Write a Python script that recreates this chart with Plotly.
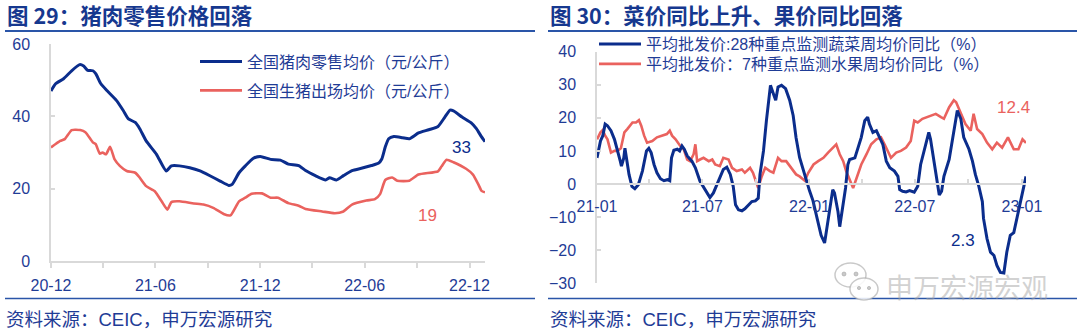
import plotly.graph_objects as go

# ---------------- 图29：猪肉价格（元/公斤） ----------------
pork_dates = [
    "2020-12-01", "2020-12-09", "2020-12-23", "2021-01-06", "2021-01-20", "2021-01-27",
    "2021-02-03", "2021-02-12", "2021-02-17", "2021-02-26", "2021-03-08", "2021-03-25",
    "2021-04-06", "2021-04-15", "2021-04-27", "2021-05-05", "2021-05-16", "2021-06-03",
    "2021-06-20", "2021-06-29", "2021-07-13", "2021-07-31", "2021-08-18", "2021-09-05",
    "2021-09-22", "2021-10-07", "2021-10-13", "2021-10-25", "2021-11-05", "2021-11-19",
    "2021-12-01", "2021-12-19", "2022-01-05", "2022-01-19", "2022-02-06", "2022-02-18",
    "2022-03-07", "2022-03-25", "2022-04-01", "2022-04-13", "2022-04-25", "2022-05-10",
    "2022-05-28", "2022-06-13", "2022-06-25", "2022-07-01", "2022-07-07", "2022-07-13",
    "2022-07-22", "2022-08-06", "2022-08-18", "2022-09-03", "2022-09-21", "2022-10-07",
    "2022-10-19", "2022-10-28", "2022-11-03", "2022-11-18", "2022-12-04", "2022-12-13",
    "2022-12-22", "2022-12-28",
]
pork_retail = [
    47.0, 49.0, 50.4, 52.6, 54.3, 53.9,
    52.7, 52.6, 51.8, 49.0, 47.2, 44.4,
    41.6, 39.3, 38.3, 36.5, 33.2, 29.5,
    24.9, 26.3, 26.3, 25.8, 24.9, 23.5,
    22.1, 20.9, 21.2, 24.4, 26.3, 28.4,
    28.9, 28.1, 27.9, 26.8, 26.4, 25.0,
    23.6, 22.4, 23.0, 22.4, 23.6, 25.0,
    25.7, 26.4, 27.0, 28.2, 31.5, 33.8,
    34.4, 34.1, 33.8, 35.4, 36.3, 37.2,
    39.8, 41.7, 41.5, 39.8, 38.2, 36.6,
    34.3, 33.0,
]

hog_dates = [
    "2020-12-01", "2020-12-17", "2020-12-25", "2021-01-06", "2021-01-21", "2021-01-30",
    "2021-02-12", "2021-02-17", "2021-02-24", "2021-03-01", "2021-03-07", "2021-03-14",
    "2021-03-22", "2021-03-31", "2021-04-12", "2021-04-27", "2021-05-05", "2021-05-16",
    "2021-05-31", "2021-06-12", "2021-06-22", "2021-06-29", "2021-07-13", "2021-08-07",
    "2021-08-24", "2021-09-10", "2021-09-28", "2021-10-10", "2021-10-25", "2021-11-05",
    "2021-11-16", "2021-12-04", "2021-12-19", "2022-01-01", "2022-01-19", "2022-02-06",
    "2022-02-18", "2022-03-19", "2022-04-10", "2022-04-25", "2022-05-10", "2022-06-04",
    "2022-06-19", "2022-06-28", "2022-07-07", "2022-07-19", "2022-07-28", "2022-08-18",
    "2022-09-03", "2022-10-07", "2022-10-13", "2022-10-22", "2022-11-03", "2022-11-25",
    "2022-12-07", "2022-12-16", "2022-12-22", "2022-12-28",
]
hog_price = [
    31.4, 33.2, 33.7, 36.2, 36.2, 35.6,
    32.8, 32.3, 29.7, 30.0, 29.5, 31.6,
    28.1, 26.3, 24.9, 24.4, 23.0, 20.7,
    19.3, 16.5, 14.2, 16.3, 16.5, 15.9,
    15.6, 14.7, 13.0, 12.6, 16.5, 17.5,
    18.6, 18.7, 17.5, 17.5, 16.0, 15.3,
    14.4, 13.7, 13.2, 13.7, 15.6, 16.7,
    17.1, 18.5, 22.4, 23.1, 22.2, 22.2,
    23.9, 24.8, 26.1, 28.0, 27.3, 25.5,
    23.9, 21.3, 19.4, 19.0,
]

pork_names = ["全国猪肉零售均价（元/公斤）", "全国生猪出场均价（元/公斤）"]
pork_tickvals = ["2020-12-01", "2021-03-01", "2021-06-01", "2021-09-01", "2021-12-01",
                 "2022-03-01", "2022-06-01", "2022-09-01", "2022-12-01"]
pork_ticktext = ["20-12", "", "21-06", "", "21-12", "", "22-06", "", "22-12"]

# ---------------- 图30：菜价、果价同比（%） ----------------
veg_dates = [
    "2021-01-01", "2021-01-07", "2021-01-11", "2021-01-15", "2021-01-19", "2021-01-25",
    "2021-01-31", "2021-02-05", "2021-02-10", "2021-02-12", "2021-02-16", "2021-02-18",
    "2021-02-21", "2021-02-25", "2021-03-02", "2021-03-07", "2021-03-13", "2021-03-20",
    "2021-03-27", "2021-03-31", "2021-04-04", "2021-04-09", "2021-04-14", "2021-04-20",
    "2021-04-26", "2021-05-02", "2021-05-06", "2021-05-09", "2021-05-13", "2021-05-19",
    "2021-05-23", "2021-05-27", "2021-05-31", "2021-06-05", "2021-06-13", "2021-06-19",
    "2021-06-27", "2021-07-06", "2021-07-14", "2021-07-20", "2021-07-29", "2021-08-06",
    "2021-08-12", "2021-08-18", "2021-08-23", "2021-08-27", "2021-09-01", "2021-09-07",
    "2021-09-12", "2021-09-18", "2021-09-24", "2021-09-30", "2021-10-05", "2021-10-08",
    "2021-10-14", "2021-10-19", "2021-10-26", "2021-10-31", "2021-11-04", "2021-11-08",
    "2021-11-14", "2021-11-21", "2021-11-28", "2021-12-04", "2021-12-09", "2021-12-15",
    "2021-12-23", "2022-01-01", "2022-01-07", "2022-01-15", "2022-01-21", "2022-01-27",
    "2022-02-02", "2022-02-10", "2022-02-13", "2022-02-19", "2022-02-22", "2022-02-27",
    "2022-03-04", "2022-03-08", "2022-03-11", "2022-03-20", "2022-03-25", "2022-03-31",
    "2022-04-06", "2022-04-11", "2022-04-14", "2022-04-20", "2022-04-26", "2022-04-30",
    "2022-05-07", "2022-05-13", "2022-05-19", "2022-05-27", "2022-06-02", "2022-06-05",
    "2022-06-10", "2022-06-16", "2022-06-22", "2022-06-30", "2022-07-06", "2022-07-11",
    "2022-07-20", "2022-07-25", "2022-07-28", "2022-08-03", "2022-08-09", "2022-08-12",
    "2022-08-16", "2022-08-20", "2022-08-29", "2022-09-04", "2022-09-09", "2022-09-12",
    "2022-09-18", "2022-09-23", "2022-10-02", "2022-10-08", "2022-10-13", "2022-10-19",
    "2022-10-25", "2022-10-27", "2022-11-02", "2022-11-08", "2022-11-14", "2022-11-19",
    "2022-11-25", "2022-12-01", "2022-12-06", "2022-12-12", "2022-12-18", "2022-12-23",
    "2022-12-29", "2023-01-04", "2023-01-08",
]
veg_yoy = [
    7.9, 13.0, 14.6, 18.1, 17.6, 16.1,
    13.5, 10.5, 6.9, 5.4, 7.9, 10.8,
    7.4, 2.9, -0.7, -1.4, -0.2, 3.9,
    10.0, 10.8, 9.5, 5.9, 3.4, 1.6,
    1.0, 1.3, 1.0, 7.9, 10.2, 10.5,
    10.0, 11.5, 10.5, 8.5, 6.9, 4.9,
    0.8, -1.7, -4.1, -2.7, 0.8, 4.4,
    5.1, 2.9, -0.7, -6.3, -7.8, -8.1,
    -7.5, -6.3, -5.3, -5.1, -4.3, 2.9,
    10.0, 19.1, 29.8, 27.3, 25.3, 29.3,
    29.8, 28.8, 25.3, 20.7, 14.0, 8.0,
    3.0, -2.0, -5.0, -11.0, -15.5, -17.8,
    -10.4, -1.7, -2.7, -8.4, -12.9, -7.3,
    -1.2, 5.9, 7.4, 7.9, 11.0, 14.1,
    19.1, 20.2, 18.1, 15.6, 16.1, 14.6,
    12.0, 6.9, 4.9, 3.9, 2.3, -1.7,
    -2.2, -2.4, -2.0, -2.5, -0.7, 5.9,
    12.5, 15.6, 13.5, 6.9, -0.2, -3.3,
    -2.2, 2.3, 7.4, 13.5, 19.1, 22.2,
    19.7, 14.1, 10.5, 6.9, 2.9, -0.7,
    -5.3, -10.4, -16.5, -20.6, -21.6, -24.6,
    -26.7, -26.9, -20.6, -15.5, -14.7, -10.4,
    -5.3, -0.2, 2.3,
]

fruit_dates = [
    "2021-01-01", "2021-01-07", "2021-01-11", "2021-01-15", "2021-01-19", "2021-01-25",
    "2021-01-31", "2021-02-05", "2021-02-11", "2021-02-17", "2021-02-22", "2021-03-03",
    "2021-03-09", "2021-03-14", "2021-03-18", "2021-03-23", "2021-03-28", "2021-04-06",
    "2021-04-14", "2021-04-23", "2021-05-01", "2021-05-06", "2021-05-10", "2021-05-16",
    "2021-05-24", "2021-05-30", "2021-06-05", "2021-06-10", "2021-06-16", "2021-06-19",
    "2021-06-22", "2021-06-27", "2021-07-03", "2021-07-12", "2021-07-18", "2021-07-23",
    "2021-07-31", "2021-08-06", "2021-08-15", "2021-08-21", "2021-08-29", "2021-09-07",
    "2021-09-12", "2021-09-21", "2021-09-26", "2021-10-02", "2021-10-05", "2021-10-11",
    "2021-10-17", "2021-10-25", "2021-10-31", "2021-11-08", "2021-11-14", "2021-11-22",
    "2021-12-01", "2021-12-09", "2021-12-15", "2021-12-24", "2021-12-30", "2022-01-08",
    "2022-01-16", "2022-01-25", "2022-02-02", "2022-02-11", "2022-02-16", "2022-02-22",
    "2022-02-28", "2022-03-05", "2022-03-11", "2022-03-17", "2022-03-23", "2022-03-31",
    "2022-04-09", "2022-04-17", "2022-04-26", "2022-05-04", "2022-05-10", "2022-05-16",
    "2022-05-21", "2022-05-30", "2022-06-07", "2022-06-16", "2022-06-24", "2022-06-30",
    "2022-07-06", "2022-07-14", "2022-07-23", "2022-07-31", "2022-08-06", "2022-08-15",
    "2022-08-20", "2022-08-29", "2022-09-06", "2022-09-10", "2022-09-18", "2022-09-26",
    "2022-10-05", "2022-10-10", "2022-10-16", "2022-10-25", "2022-11-02", "2022-11-11",
    "2022-11-19", "2022-11-28", "2022-12-08", "2022-12-18", "2022-12-26", "2023-01-02",
    "2023-01-08",
]
fruit_yoy = [
    13.5, 15.6, 16.3, 14.6, 13.5, 9.5,
    10.0, 10.0, 10.8, 15.6, 16.6, 18.6,
    18.6, 19.3, 17.6, 14.6, 12.5, 13.0,
    14.1, 14.6, 15.1, 16.1, 14.6, 13.5,
    11.5, 10.5, 7.4, 6.9, 9.0, 12.0,
    6.9, 7.4, 7.9, 6.9, 7.4, 5.9,
    5.4, 7.9, 7.4, 4.9, 3.9, 4.4,
    3.4, 4.9, 3.4, 0.3, -1.2, 2.3,
    4.9, 3.9, 3.4, 7.9, 6.9, 6.9,
    4.9, 2.9, 2.3, 1.0, 3.4, 5.9,
    6.9, 7.9, 9.5, 11.0, 12.0, 9.0,
    6.9, 3.9, 1.3, -1.2, 1.8, 5.9,
    9.0, 12.0, 13.5, 14.1, 12.0, 10.0,
    7.9, 9.5, 10.0, 11.0, 13.0, 19.1,
    18.6, 19.7, 20.2, 20.7, 21.2, 20.2,
    19.7, 23.2, 25.3, 24.7, 21.2, 18.1,
    16.1, 21.2, 16.6, 15.1, 12.5, 10.5,
    12.5, 11.0, 14.1, 10.5, 10.5, 13.5,
    12.4,
]

produce_names = ["平均批发价:28种重点监测蔬菜周均价同比（%）",
                 "平均批发价：7种重点监测水果周均价同比（%）"]
produce_tickvals = ["2021-01-01", "2021-04-01", "2021-07-01", "2021-10-01", "2022-01-01",
                    "2022-04-01", "2022-07-01", "2022-10-01", "2023-01-01"]
produce_ticktext = ["21-01", "", "21-07", "", "22-01", "", "22-07", "", "23-01"]

# ---------------- styling ----------------
W, H = 1080, 331
BLUE = "#0B2D8C"
RED = "#EA625E"
TEXT = "#1F3C96"
TITLE = "#16388F"
RULE = "#2A55A8"
AXIS = "#D9D9D9"
LATIN = "Liberation Sans, Noto Sans CJK SC, sans-serif"
CJK = "Noto Sans CJK SC, sans-serif"


def px(x):
    return x / W


def py(y):
    return 1 - y / H


fig = go.Figure()

fig.add_trace(go.Scatter(x=pork_dates, y=pork_retail, name=pork_names[0], mode="lines",
                         line=dict(color=BLUE, width=3, shape="spline", smoothing=0.5),
                         xaxis="x", yaxis="y", legend="legend"))
fig.add_trace(go.Scatter(x=hog_dates, y=hog_price, name=pork_names[1], mode="lines",
                         line=dict(color=RED, width=2.6, shape="spline", smoothing=0.5),
                         xaxis="x", yaxis="y", legend="legend2"))
fig.add_trace(go.Scatter(x=fruit_dates, y=fruit_yoy, name=produce_names[1], mode="lines",
                         line=dict(color=RED, width=2.6),
                         xaxis="x2", yaxis="y2", legend="legend4"))
fig.add_trace(go.Scatter(x=veg_dates, y=veg_yoy, name=produce_names[0], mode="lines",
                         line=dict(color=BLUE, width=3),
                         xaxis="x2", yaxis="y2", legend="legend3"))

tickfont = dict(family=LATIN, size=16, color=TEXT)
axis_common = dict(showline=True, linecolor=AXIS, linewidth=1.5, tickcolor=AXIS, tickwidth=1.5,
                   showgrid=False, zeroline=False, tickfont=tickfont, automargin=False)

# left panel axes
y1_dom = [py(261), py(44)]
fig.update_layout(
    xaxis=dict(domain=[px(51), px(485)], type="date", range=[pork_dates[0], pork_dates[-1]],
               tickvals=pork_tickvals, ticktext=pork_ticktext, ticks="outside", ticklen=5,
               anchor="y", ticklabelstandoff=4, **axis_common),
    yaxis=dict(domain=y1_dom, range=[0, 60], dtick=20, ticks="inside", ticklen=4,
               anchor="x", ticklabelstandoff=16, **axis_common),
)

# right panel axes; the date axis crosses the value axis at zero
y2_range = [-30, 40]
y2_dom = [py(283.3), py(51.6)]
zero_pos = y2_dom[0] + (0 - y2_range[0]) / (y2_range[1] - y2_range[0]) * (y2_dom[1] - y2_dom[0])
fig.update_layout(
    xaxis2=dict(domain=[px(597), px(1026)], type="date", range=[veg_dates[0], veg_dates[-1]],
                tickvals=produce_tickvals, ticktext=produce_ticktext, ticks="inside", ticklen=4,
                anchor="free", position=zero_pos, ticklabelstandoff=8, **axis_common),
    yaxis2=dict(domain=y2_dom, range=y2_range, dtick=10, ticks="inside", ticklen=4,
                anchor="x2", ticklabelstandoff=16, **axis_common),
)

legend_common = dict(xanchor="left", yanchor="middle", bgcolor="rgba(0,0,0,0)", borderwidth=0,
                     font=dict(family=LATIN, size=16, color=TEXT), itemwidth=42)
fig.update_layout(
    legend=dict(x=px(195), y=py(61.5), **legend_common),
    legend2=dict(x=px(195), y=py(90.5), **legend_common),
    legend3=dict(x=px(594), y=py(44), **legend_common),
    legend4=dict(x=px(594), y=py(64), **legend_common),
)

annotations = [
    dict(x=px(5), y=py(15), text="<b>图 29：猪肉零售价格回落</b>", xanchor="left", yanchor="middle",
         font=dict(family=CJK, size=21.5, color=TITLE)),
    dict(x=px(548), y=py(15), text="<b>图 30：菜价同比上升、果价同比回落</b>", xanchor="left",
         yanchor="middle", font=dict(family=CJK, size=21.5, color=TITLE)),
    dict(x=px(4), y=py(319), text="资料来源：CEIC，申万宏源研究", xanchor="left", yanchor="middle",
         font=dict(family=LATIN, size=18.5, color=TEXT)),
    dict(x=px(548), y=py(319), text="资料来源：CEIC，申万宏源研究", xanchor="left", yanchor="middle",
         font=dict(family=LATIN, size=18.5, color=TEXT)),
    # end-of-series value labels
    dict(x=px(461), y=py(147), text=f"{pork_retail[-1]:.0f}", xanchor="center", yanchor="middle",
         font=dict(family=LATIN, size=17, color=BLUE)),
    dict(x=px(427), y=py(215), text=f"{hog_price[-1]:.0f}", xanchor="center", yanchor="middle",
         font=dict(family=LATIN, size=17, color=RED)),
    dict(x=px(1013), y=py(108), text=f"{fruit_yoy[-1]:.1f}", xanchor="center", yanchor="middle",
         font=dict(family=LATIN, size=17, color=RED)),
    dict(x=px(963), y=py(240), text=f"{veg_yoy[-1]:.1f}", xanchor="center", yanchor="middle",
         font=dict(family=LATIN, size=17, color=BLUE)),
    # account watermark
    dict(x=px(884), y=py(286), text="申万宏源宏观", xanchor="left", yanchor="middle",
         font=dict(family=CJK, size=27, color="rgba(165,165,165,0.5)")),
]
for a in annotations:
    a.update(xref="paper", yref="paper", showarrow=False)

shapes = []
for x0, x1 in [(5, 535), (548, 1077)]:
    shapes.append(dict(type="line", x0=px(x0), x1=px(x1), y0=py(31), y1=py(31),
                       line=dict(color=RULE, width=2)))
    shapes.append(dict(type="line", x0=px(x0), x1=px(x1), y0=py(298.5), y1=py(298.5),
                       line=dict(color=RULE, width=1.6)))
# watermark chat-bubble icon
wm = "rgba(165,165,165,0.6)"
shapes.append(dict(type="circle", x0=px(835), x1=px(866), y0=py(263), y1=py(287),
                   line=dict(color=wm, width=1.5), fillcolor="rgba(255,255,255,0.6)"))
shapes.append(dict(type="circle", x0=px(850), x1=px(878), y0=py(278), y1=py(300),
                   line=dict(color=wm, width=1.5), fillcolor="rgba(255,255,255,0.85)"))
for cx, cy, r in [(844, 274, 2), (856, 274, 2), (859, 288, 1.6), (869, 288, 1.6)]:
    shapes.append(dict(type="circle", x0=px(cx - r), x1=px(cx + r), y0=py(cy + r), y1=py(cy - r),
                       line=dict(color=wm, width=1), fillcolor=wm))
for s in shapes:
    s.update(xref="paper", yref="paper")

fig.update_layout(
    width=W, height=H, margin=dict(l=0, r=0, t=0, b=0, autoexpand=False),
    paper_bgcolor="white", plot_bgcolor="white",
    annotations=annotations, shapes=shapes, showlegend=True,
)

fig.write_html("out.html")
